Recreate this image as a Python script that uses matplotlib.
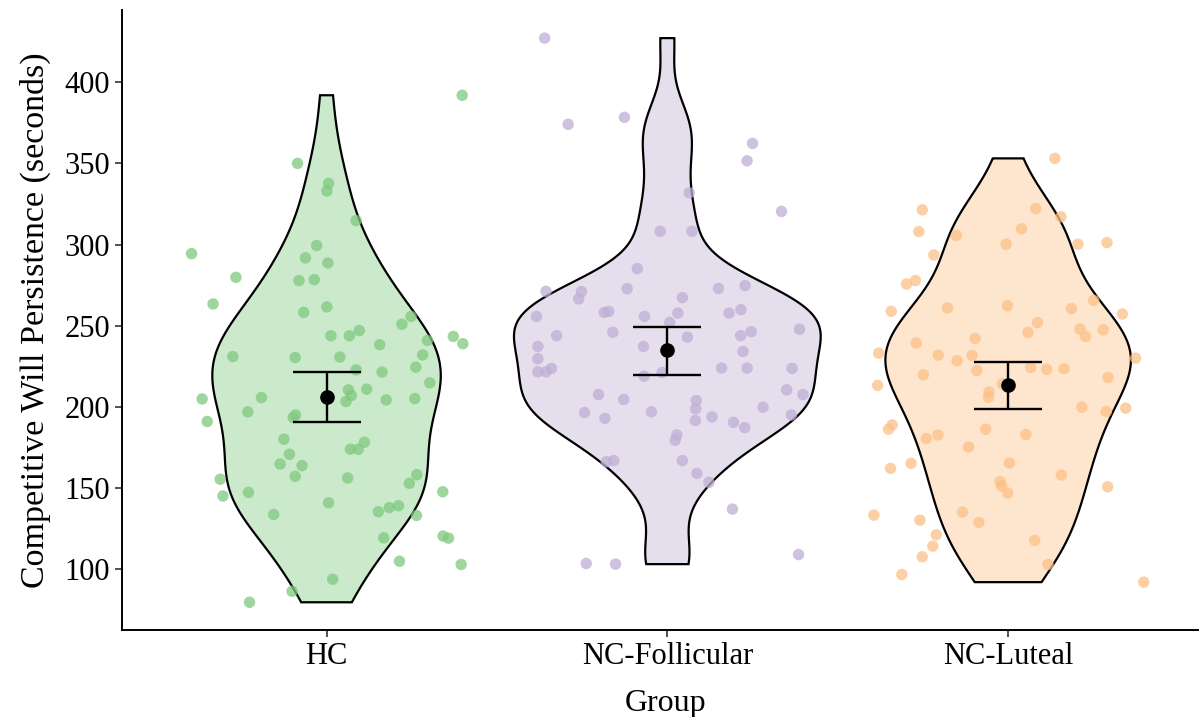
import numpy as np
import matplotlib.pyplot as plt

plt.rcParams['font.family'] = ['Liberation Serif', 'DejaVu Serif']

groups = ['HC', 'NC-Follicular', 'NC-Luteal']
colors = ['#7FC97F', '#BEAED4', '#FDC086']

# persistence values (seconds) and horizontal jitter
hc_values = [392.0, 350.0, 337.7, 333.0, 314.8, 294.4, 299.4, 291.8, 288.7, 279.8,
             277.8, 278.4, 263.4, 258.2, 261.6, 255.7, 250.9, 243.8, 243.8, 247.0,
             238.3, 240.9, 243.4, 238.9, 231.0, 230.4, 230.7, 232.0, 221.4, 222.8,
             224.5, 214.8, 210.9, 210.5, 207.0, 203.3, 204.3, 205.1, 204.9, 205.7,
             196.9, 191.0, 195.0, 193.4, 180.1, 173.9, 173.9, 178.2, 170.8, 164.8,
             163.8, 157.2, 156.2, 158.2, 152.9, 155.4, 145.1, 147.3, 147.7, 140.9,
             133.7, 135.4, 137.9, 139.1, 133.1, 119.3, 120.4, 119.1, 104.9, 102.9,
             93.8, 86.4, 79.6]
hc_jitter = [0.398, -0.085, 0.006, 0.001, 0.087, -0.396, -0.029, -0.062, 0.004, -0.266,
             -0.081, -0.036, -0.333, -0.067, 0.001, 0.248, 0.221, 0.013, 0.067, 0.096,
             0.156, 0.296, 0.372, 0.400, -0.275, -0.092, 0.039, 0.282, 0.163, 0.087,
             0.262, 0.303, 0.118, 0.064, 0.073, 0.057, 0.175, 0.259, -0.365, -0.191,
             -0.231, -0.350, -0.091, -0.098, -0.125, 0.070, 0.093, 0.111, -0.109, -0.136,
             -0.072, -0.092, 0.062, 0.265, 0.243, -0.312, -0.304, -0.229, 0.341, 0.006,
             -0.155, 0.152, 0.184, 0.211, 0.264, 0.168, 0.342, 0.358, 0.214, 0.395,
             0.018, -0.101, -0.226]

fol_values = [427.2, 374.1, 378.4, 362.3, 351.6, 331.9, 320.4, 308.2, 308.2, 285.2,
              271.2, 271.0, 266.5, 272.8, 267.3, 273.0, 274.7, 255.7, 258.2, 258.8,
              255.7, 257.8, 252.0, 257.8, 259.9, 243.9, 245.9, 243.0, 243.9, 246.3,
              247.9, 237.2, 237.2, 234.1, 229.6, 221.6, 221.6, 223.7, 218.9, 221.2,
              223.9, 223.9, 223.7, 207.6, 204.5, 203.9, 198.8, 210.5, 207.6, 196.5,
              192.9, 197.0, 191.6, 193.8, 190.5, 187.2, 199.8, 195.0, 182.7, 179.4,
              166.2, 166.9, 166.9, 159.0, 153.5, 137.0, 103.5, 103.1, 109.0]
fol_jitter = [-0.360, -0.291, -0.126, 0.250, 0.234, 0.064, 0.335, -0.021, 0.072, -0.088,
              -0.356, -0.252, -0.260, -0.118, 0.044, 0.150, 0.228, -0.384, -0.185, -0.172,
              -0.067, 0.031, 0.007, 0.181, 0.216, -0.325, -0.160, 0.059, 0.215, 0.246,
              0.388, -0.380, -0.070, 0.222, -0.380, -0.380, -0.356, -0.340, -0.068, -0.015,
              0.159, 0.234, 0.366, -0.202, -0.128, 0.085, 0.083, 0.350, 0.398, -0.243,
              -0.183, -0.047, 0.082, 0.131, 0.194, 0.227, 0.281, 0.364, 0.028, 0.023,
              -0.179, -0.157, 0.044, 0.087, 0.122, 0.191, -0.238, -0.152, 0.385]

lut_values = [353.1, 321.4, 322.2, 317.1, 308.0, 309.7, 305.6, 300.2, 300.2, 301.2,
              293.6, 275.7, 277.8, 258.9, 261.0, 262.3, 260.5, 265.6, 257.2, 251.9,
              245.9, 247.9, 243.4, 247.5, 242.2, 239.3, 233.1, 231.9, 228.4, 231.7,
              230.0, 219.8, 222.4, 224.3, 223.1, 223.5, 218.1, 213.2, 209.1, 206.0,
              214.2, 199.8, 197.1, 199.2, 188.9, 186.2, 180.4, 182.7, 186.2, 182.9,
              175.3, 162.1, 165.2, 165.4, 158.0, 153.9, 151.2, 146.9, 150.8, 133.3,
              130.2, 135.2, 128.8, 121.2, 114.2, 117.7, 107.6, 102.9, 96.7, 92.0]
lut_jitter = [0.137, -0.252, 0.081, 0.155, -0.262, 0.039, -0.152, -0.006, 0.205, 0.290,
              -0.218, -0.298, -0.272, -0.343, -0.178, -0.002, 0.186, 0.251, 0.335, 0.086,
              0.058, 0.211, 0.227, 0.279, -0.097, -0.270, -0.380, -0.205, -0.150, -0.106,
              0.374, -0.249, -0.092, 0.066, 0.113, 0.164, 0.293, -0.383, -0.056, -0.058,
              -0.017, 0.216, 0.288, 0.345, -0.340, -0.351, -0.240, -0.206, -0.066, 0.052,
              -0.116, -0.345, -0.285, 0.004, 0.156, -0.024, -0.019, -0.001, 0.292, -0.394,
              -0.259, -0.134, -0.086, -0.211, -0.221, 0.078, -0.252, 0.117, -0.312, 0.398]

group_means = [205.9, 235.0, 213.3]
ci_low = [190.6, 219.9, 198.4]
ci_high = [221.5, 249.4, 227.8]

all_values = [hc_values, fol_values, lut_values]
all_jitter = [hc_jitter, fol_jitter, lut_jitter]


def violin_density(values, n=512):
    # gaussian kde with bw.nrd0, trimmed to the data range (like geom_violin)
    v = np.asarray(values, dtype=float)
    q75, q25 = np.percentile(v, [75, 25])
    bw = 0.9 * min(v.std(ddof=1), (q75 - q25) / 1.34) * len(v) ** -0.2
    grid = np.linspace(v.min(), v.max(), n)
    z = (grid[:, None] - v[None, :]) / bw
    dens = np.exp(-0.5 * z ** 2).sum(axis=1) / (len(v) * bw * np.sqrt(2 * np.pi))
    return grid, dens


curves = [violin_density(v) for v in all_values]
dmax = max(d.max() for _, d in curves)

fig = plt.figure(figsize=(11.99, 7.17), dpi=100)
ax = fig.add_axes([0.1018, 0.1213, 0.8982, 0.8647])

for i, (grid, dens) in enumerate(curves):
    pos = i + 1
    half = 0.45 * dens / dmax
    xs = np.concatenate([pos - half, (pos + half)[::-1]])
    ys = np.concatenate([grid, grid[::-1]])
    ax.fill(xs, ys, facecolor=colors[i], alpha=0.4, edgecolor='none', zorder=1)
    ax.fill(xs, ys, facecolor='none', edgecolor='black', lw=1.6, zorder=2)
    ax.scatter(pos + np.asarray(all_jitter[i]), all_values[i], s=68,
               color=colors[i], alpha=0.75, edgecolors='none', zorder=3)

pos = np.arange(1, 4)
means = np.array(group_means)
yerr = [means - np.array(ci_low), np.array(ci_high) - means]
ax.errorbar(pos, means, yerr=yerr, fmt='o', color='black', ms=9.5,
            capsize=24.5, elinewidth=1.7, capthick=1.7, zorder=4)

ax.set_xlim(0.4, 3.56)
ax.set_ylim(62.5, 444.5)
ax.set_xticks(pos)
ax.set_xticklabels(groups)
ax.set_yticks([100, 150, 200, 250, 300, 350, 400])
ax.tick_params(labelsize=22, width=1.2, length=5, color='#333333')
for side in ['top', 'right']:
    ax.spines[side].set_visible(False)
for side in ['left', 'bottom']:
    ax.spines[side].set_linewidth(1.4)
ax.set_xlabel('Group', fontsize=23, labelpad=12)
ax.xaxis.set_label_coords(0.505, -0.095)
ax.set_ylabel('Competitive Will Persistence (seconds)', fontsize=24.5, labelpad=10)

fig.savefig('out.png', dpi=100)
